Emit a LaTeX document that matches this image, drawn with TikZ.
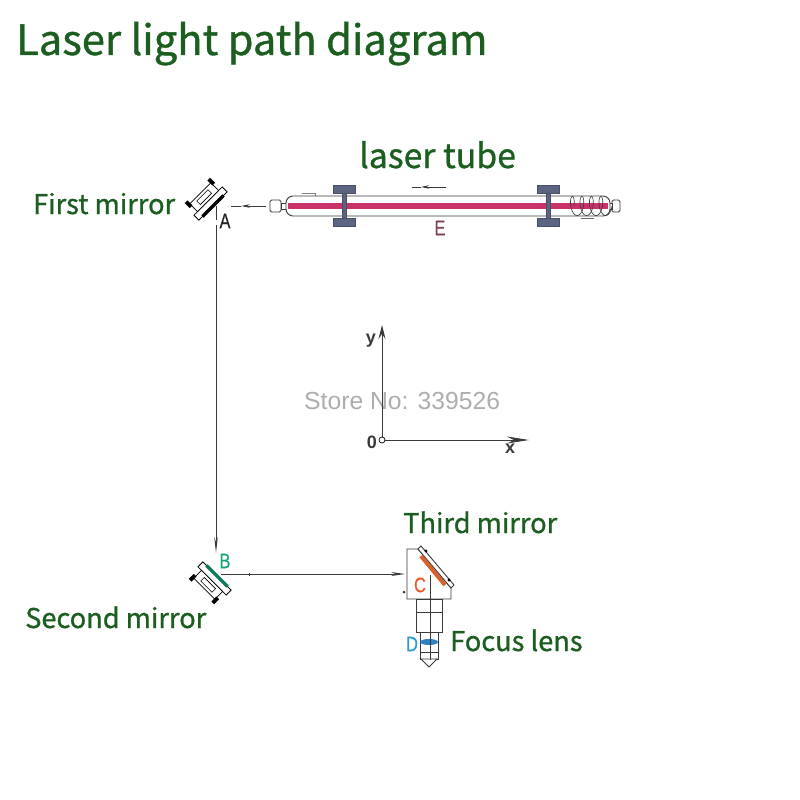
\documentclass[tikz,border=0pt]{standalone}
\usepackage{fontspec}
\setmainfont[FakeBold=0.9]{Noto Sans CJK SC}
\newfontfamily\arialfont{Liberation Sans}
\newfontfamily\letterfont[FakeStretch=0.78,FakeBold=0.4]{Liberation Sans}
\usepackage{xcolor}
\usetikzlibrary{calc, arrows.meta}

\definecolor{titlegreen}{HTML}{1B5E20}
\definecolor{tubered}{HTML}{C9336A}
\definecolor{flangeblue}{HTML}{5B6480}
\definecolor{lineblack}{HTML}{3A3A3A}
\definecolor{mirrorgreen}{HTML}{0F7A5C}
\definecolor{mirrororange}{HTML}{D9602A}
\definecolor{letterE}{HTML}{7B3F55}
\definecolor{letterB}{HTML}{12A37A}
\definecolor{letterC}{HTML}{E8582A}
\definecolor{letterD}{HTML}{2A9BD8}
\definecolor{lensblue}{HTML}{2F7FC1}

\tikzset{
    label green/.style={text=titlegreen, inner sep=0pt, anchor=base west, font=\fontsize{#1}{#1}\selectfont},
    letter/.style={text=#1, inner sep=0pt, font=\letterfont\fontsize{21}{21}\selectfont},
    axis label/.style={text=lineblack, inner sep=0pt, font=\arialfont\bfseries\fontsize{18}{18}\selectfont},
    beam/.style={draw=lineblack, line width=0.9pt},
    part/.style={draw=lineblack, line width=0.9pt, fill=white},
    flange/.style={fill=flangeblue, draw=flangeblue!80!black, line width=0.4pt},
    pics/mirror/.style={code={
        \draw[line width=0.8pt, fill=white] (-20,0) rectangle (20,7);
        \draw[line width=0.7pt, fill=white] (-15,7) rectangle (15,18);
        \draw[line width=0.6pt] (-8,10) rectangle (8,15);
        \fill[black] (-18,15) rectangle (-14,22);
        \fill[black] (14,15) rectangle (18,22);
        \draw[#1, line width=3.2pt] (-15,0) -- (15,0);
    }}
}

\begin{document}
\begin{tikzpicture}[>=latex, x=1pt, y=-1pt]
    \useasboundingbox (0,0) rectangle (800,800);

    % 1. Tiêu đề và nhãn
    \node[label green=41.7] (title) at (16,55) {Laser light path diagram};
    \node[label green=33.8] (tubeLabel) at (359,168) {laser tube};
    \node[label green=27.2] (firstLabel) at (33,214) {First mirror};
    \node[label green=27.2] (secondLabel) at (25,628) {Second mirror};
    \node[label green=27.2] (thirdLabel) at (403,533) {Third mirror};
    \node[label green=27.2] (focusLabel) at (450,651) {Focus lens};
    \node[text=black!32, inner sep=0pt, anchor=base west, font=\arialfont\fontsize{24.7}{24.7}\selectfont]
        (store) at (304,409) {Store No: 339526};

    % 2. Ống laser
    \draw[part, rounded corners=1.5pt] (270,200) rectangle (281,212);
    \draw[part, rounded corners=1.5pt] (612,200) rectangle (620,212);
    \draw[part] (281,203) rectangle (287,209);
    \draw[part] (606,203) rectangle (612,209);
    \draw[part, rounded corners=7pt] (286,196) rectangle (610,216);
    \fill[tubered] (288,203) rectangle (608,209);
    \draw[draw=black!50, line width=1pt] (302,193) -- (315,193) -- (315,196);
    \draw[draw=lineblack, line width=0.6pt, samples=240, domain=0:1440]
        plot ({570+9.5*\x/360+4*cos(\x)}, {206-9.5*sin(\x)});
    \draw[draw=black!60, line width=1pt] (581,218) -- (594,218);
    \foreach \cx in {344,548} {
        \fill[flange] (\cx-11,185) rectangle (\cx+11,193);
        \fill[flange] (\cx-11,218) rectangle (\cx+11,226);
        \fill[flange] (\cx-2,193) rectangle (\cx+2,218);
    }
    \coordinate (flowEnd) at (446,187);
    \coordinate (flowMid) at (421,187);
    \coordinate (flowTip) at (412,187);
    \draw[beam, -{Stealth[length=8pt,width=3.5pt]}] (flowEnd) -- (flowMid);
    \draw[beam] (flowMid) -- (flowTip);
    \node[letter=letterE] (E) at (440,228) {E};

    % 3. Các gương
    \pic[rotate=-135] at (213,206) {mirror=black};
    \pic[rotate=-45] at (217,576) {mirror=mirrorgreen};

    % 4. Đầu laser
    \draw[part] (407,549) -- (418,549) -- (451,588) -- (451,599) -- (407,599) -- cycle;
    \draw[part] (418,549) -- (421,546) -- (454,585) -- (451,588) -- cycle;
    \draw[mirrororange, line width=4pt] (421,556) -- (445,585);
    \fill[black] (426,551) circle (1.6pt);
    \fill[black] (449,580) circle (1.6pt);
    \draw[part] (416,599) rectangle (442,632);
    \draw[line width=0.7pt, lineblack] (416,612) -- (442,612);
    \draw[part] (420,632) rectangle (438,652);
    \draw[part] (420,652) rectangle (438,659);
    \draw[part] (421,659) -- (437,659) -- (429,667) -- cycle;
    \fill[lineblack] (404,592) circle (1.5pt);
    \fill[lensblue] (429,642) ellipse (9pt and 3pt);
    \node[letter=letterC] (C) at (420,585) {C};
    \node[letter=letterD] (D) at (412,644) {D};

    % 5. Đường đi của tia laser
    \coordinate (tubeOut) at (266,206);
    \coordinate (mirrorA) at (216,206);
    \coordinate (beamAMid) at (241,206);
    \coordinate (beamAEnd) at (231,206);
    \coordinate (mirrorAOut) at (216,225);
    \coordinate (mirrorB) at (216,553);
    \coordinate (mirrorBOut) at (221,574);
    \coordinate (tickB) at (249,574);
    \coordinate (mirrorC) at (405,574);
    \coordinate (mirrorCOut) at (430,575);
    \coordinate (nozzle) at (430,660);
    \draw[beam, -{Stealth[length=9pt,width=3.5pt]}] (tubeOut) -- (beamAMid);
    \draw[beam] (beamAMid) -- (beamAEnd);
    \draw[beam] (mirrorA) -- ++(0,14);
    \draw[beam, -{Stealth[length=16pt,width=3.5pt]}] (mirrorAOut) -- (mirrorB);
    \draw[beam, -{Stealth[length=14pt,width=4pt]}] (mirrorBOut) -- (mirrorC);
    \draw[beam] (tickB) ++(0,-1.5) -- ++(0,3);
    \draw[beam] (mirrorCOut) -- (nozzle);
    \node[letter=black!85] (A) at (225,221) {A};
    \node[letter=letterB] (B) at (225,561) {B};

    % 6. Hệ trục tọa độ
    \coordinate (origin) at (382,440);
    \coordinate (axisY) at (382,325);
    \coordinate (axisX) at (529,440);
    \draw[beam, -{Stealth[length=14pt,width=7pt,inset=5pt]}] (origin) -- (axisY);
    \draw[beam, -{Stealth[length=22pt,width=7pt,inset=7pt]}] (origin) -- (axisX);
    \draw[line width=0.7pt, fill=white] (origin) circle (3pt);
    \node[axis label] (labelY) at (371,341) {y};
    \node[axis label] (labelO) at (372,442) {0};
    \node[axis label] (labelX) at (510,449) {x};
\end{tikzpicture}
\end{document}
